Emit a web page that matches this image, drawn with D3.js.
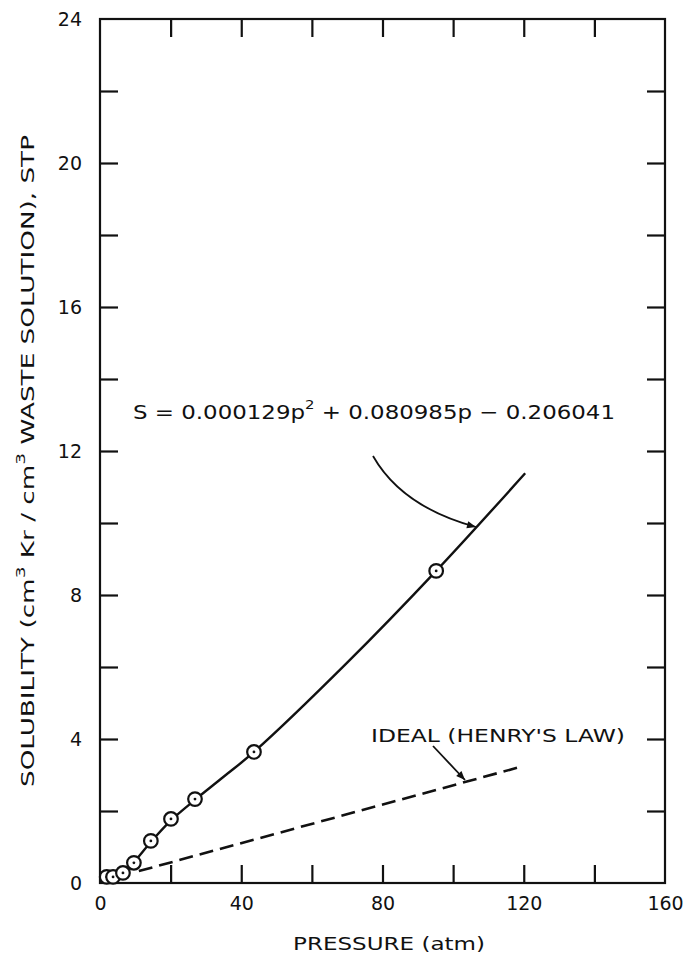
<!DOCTYPE html>
<html><head><meta charset="utf-8">
<script src="https://cdn.jsdelivr.net/npm/d3@7"></script>
<style>body{margin:0;background:#fff}svg{display:block}text{font-family:"DejaVu Sans",sans-serif;fill:#111}</style>
</head><body><svg id="c" width="690" height="956"></svg>
<script>
// Data
const pressure = [1.9, 3.7, 6.5, 9.6, 14.4, 20.1, 26.9, 43.6, 95.2];
const solubility = [0.17, 0.17, 0.28, 0.56, 1.17, 1.78, 2.33, 3.64, 8.67];
// drawn curve (as traced in the figure) for S = 0.000129p^2 + 0.080985p - 0.206041
const curveP = [2.0, 6.5, 9.6, 14.4, 20.1, 26.9, 35, 43.6, 70, 95.2, 120.4];
const curveS = [0.0, 0.27, 0.58, 1.14, 1.74, 2.31, 2.95, 3.64, 6.12, 8.67, 11.38];
const idealP = [11, 120];
const idealS = [0.33, 3.25];
const xTickLabels = [0, 40, 80, 120, 160];
const yTickLabels = [0, 4, 8, 12, 16, 20, 24];

const svg = d3.select("#c");
const L = 100, R = 665, T = 19, B = 883;
const x = d3.scaleLinear().domain([0, 160]).range([L, R]);
const y = d3.scaleLinear().domain([0, 24]).range([B, T]);
const ink = "#111";

// frame
svg.append("rect").attr("x", L).attr("y", T).attr("width", R - L).attr("height", B - T)
  .attr("fill", "none").attr("stroke", ink).attr("stroke-width", 2.2);

// axes (inward ticks)
const tl = 18;
const gB = svg.append("g").attr("transform", `translate(0,${B})`)
  .call(d3.axisBottom(x).tickValues(d3.range(0, 161, 20)).tickSize(-tl).tickPadding(14)
    .tickFormat(d => xTickLabels.includes(d) ? d : ""));
const gT = svg.append("g").attr("transform", `translate(0,${T})`)
  .call(d3.axisTop(x).tickValues(d3.range(20, 160, 20)).tickSize(-tl).tickFormat(""));
const gL = svg.append("g").attr("transform", `translate(${L},0)`)
  .call(d3.axisLeft(y).tickValues(d3.range(0, 25, 2)).tickSize(-tl).tickPadding(18)
    .tickFormat(d => yTickLabels.includes(d) ? d : ""));
const gR = svg.append("g").attr("transform", `translate(${R},0)`)
  .call(d3.axisRight(y).tickValues(d3.range(2, 24, 2)).tickSize(-tl).tickFormat(""));
[gB, gT, gL, gR].forEach(g => {
  g.select(".domain").remove();
  g.selectAll(".tick line").attr("stroke", ink).attr("stroke-width", 2.2);
  g.selectAll(".tick text").attr("font-size", 19).attr("fill", ink);
});
gB.selectAll(".tick").filter(d => d === 0 || d === 160).select("line").remove();
gL.selectAll(".tick").filter(d => d === 0 || d === 24).select("line").remove();

// fitted curve
const curvePts = curveP.map((p, i) => [p, curveS[i]]);
svg.append("path").datum(curvePts)
  .attr("d", d3.line().curve(d3.curveCatmullRom.alpha(0.5)).x(d => x(d[0])).y(d => y(d[1])))
  .attr("fill", "none").attr("stroke", ink).attr("stroke-width", 2.4);

// ideal dashed line
svg.append("path").datum(idealP.map((p, i) => [p, idealS[i]]))
  .attr("d", d3.line().x(d => x(d[0])).y(d => y(d[1])))
  .attr("fill", "none").attr("stroke", ink).attr("stroke-width", 2.6)
  .attr("stroke-dasharray", "14,7");

// data points
const pts = svg.append("g").selectAll("g").data(pressure.map((p, i) => [p, solubility[i]])).join("g")
  .attr("transform", d => `translate(${x(d[0])},${y(d[1])})`);
pts.append("circle").attr("r", 6.8).attr("fill", "#fff").attr("stroke", ink).attr("stroke-width", 2.2);
pts.append("circle").attr("r", 1.4).attr("fill", ink);

// arrow marker
svg.append("defs").append("marker").attr("id", "ah").attr("viewBox", "0 0 10 10")
  .attr("refX", 10).attr("refY", 5).attr("markerWidth", 10).attr("markerHeight", 9)
  .attr("markerUnits", "userSpaceOnUse").attr("orient", "auto")
  .append("path").attr("d", "M0,1 L10,5 L0,9 Z").attr("fill", ink);

// equation label
const eq = svg.append("text").attr("x", 133).attr("y", 419).attr("font-size", 20)
  .attr("textLength", 482).attr("lengthAdjust", "spacingAndGlyphs");
eq.append("tspan").text("S = 0.000129p");
eq.append("tspan").attr("font-size", 13).attr("dy", -10).text("2");
eq.append("tspan").attr("dy", 10).text(" + 0.080985p − 0.206041");
svg.append("path").attr("d", "M373,456 Q402,507 476,527")
  .attr("fill", "none").attr("stroke", ink).attr("stroke-width", 1.8).attr("marker-end", "url(#ah)");

// ideal label
svg.append("text").attr("x", 371).attr("y", 742).attr("font-size", 18)
  .attr("textLength", 254).attr("lengthAdjust", "spacingAndGlyphs").text("IDEAL (HENRY'S LAW)");
svg.append("path").attr("d", "M433,746 L465,780")
  .attr("fill", "none").attr("stroke", ink).attr("stroke-width", 1.8).attr("marker-end", "url(#ah)");

// axis titles
svg.append("text").attr("x", 293).attr("y", 950).attr("font-size", 17)
  .attr("textLength", 192).attr("lengthAdjust", "spacingAndGlyphs").text("PRESSURE (atm)");
const yl = svg.append("text").attr("transform", "translate(34,787) rotate(-90)").attr("font-size", 17)
  .attr("textLength", 652).attr("lengthAdjust", "spacingAndGlyphs");
yl.append("tspan").text("SOLUBILITY  (cm");
yl.append("tspan").attr("font-size", 12).attr("dy", -9).text("3");
yl.append("tspan").attr("dy", 9).text("  Kr / cm");
yl.append("tspan").attr("font-size", 12).attr("dy", -9).text("3");
yl.append("tspan").attr("dy", 9).text("  WASTE  SOLUTION),  STP");
</script></body></html>
